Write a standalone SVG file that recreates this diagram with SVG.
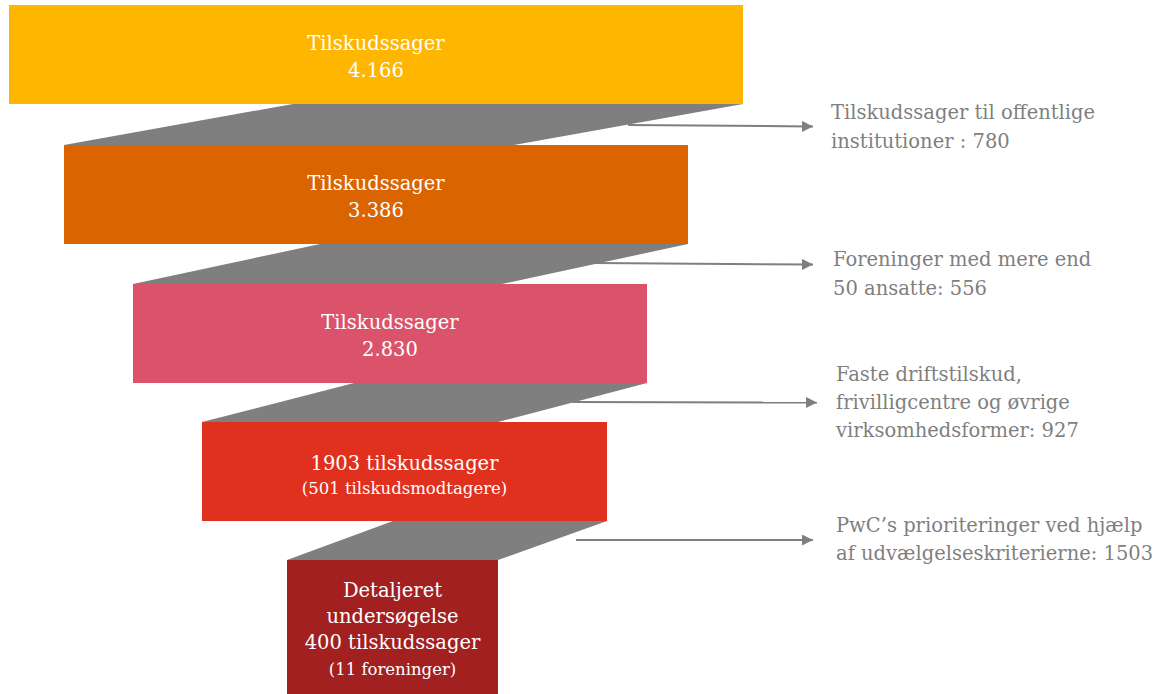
<svg xmlns="http://www.w3.org/2000/svg" width="1158" height="694" viewBox="0 0 1158 694">
<style>
.bt{font-family:"DejaVu Serif","Liberation Serif",serif;fill:#ffffff;text-anchor:middle;font-size:19.5px}
.bs{font-size:16.5px}
.lt{font-family:"DejaVu Serif","Liberation Serif",serif;fill:#7f7f7f;font-size:19.5px}
.gr{fill:#7f7f7f}
.ar{stroke:#7f7f7f;stroke-width:2;fill:none;marker-end:url(#ah)}
</style>
<defs>
<marker id="ah" viewBox="0 0 10 10" refX="10" refY="5" markerWidth="5.5" markerHeight="5.5" markerUnits="strokeWidth" orient="auto">
<path d="M0,0 L10,5 L0,10 z" fill="#7f7f7f"/>
</marker>
</defs>
<rect width="1158" height="694" fill="#ffffff"/>
<g id="connectors">
<polygon class="gr" points="293,104 743,104 514,145 64,145"/>
<polygon class="gr" points="320,244 688,244 502,284 133,284"/>
<polygon class="gr" points="354,383 647,383 498,422 202,422"/>
<polygon class="gr" points="393,521 607,521 498,560 287,560"/>
<path class="ar" d="M628,125 L813,126.5"/>
<path class="ar" d="M594,263 L813,264.5"/>
<path class="ar" d="M572,402 L817,402.5"/>
<path class="ar" d="M576,540 L813,540"/>
</g>
<g id="n1">
<rect x="9" y="5" width="734" height="99" fill="#ffb600"/>
<text class="bt" x="376" y="50">Tilskudssager</text>
<text class="bt" x="376" y="77">4.166</text>
</g>
<g id="n2">
<rect x="64" y="145" width="624" height="99" fill="#d96400"/>
<text class="bt" x="376" y="190">Tilskudssager</text>
<text class="bt" x="376" y="217">3.386</text>
</g>
<g id="n3">
<rect x="133" y="284" width="514" height="99" fill="#db536a"/>
<text class="bt" x="390" y="329">Tilskudssager</text>
<text class="bt" x="390" y="356">2.830</text>
</g>
<g id="n4">
<rect x="202" y="422" width="405" height="99" fill="#e0301e"/>
<text class="bt" x="404.5" y="470">1903 tilskudssager</text>
<text class="bt bs" x="404.5" y="494">(501 tilskudsmodtagere)</text>
</g>
<g id="n5">
<rect x="287" y="560" width="211" height="134" fill="#a32020"/>
<text class="bt" x="392.5" y="597">Detaljeret</text>
<text class="bt" x="392.5" y="623">undersøgelse</text>
<text class="bt" x="392.5" y="649">400 tilskudssager</text>
<text class="bt bs" x="392.5" y="675">(11 foreninger)</text>
</g>
<g id="l1">
<text class="lt" x="831" y="119">Tilskudssager til offentlige</text>
<text class="lt" x="831" y="148">institutioner : 780</text>
</g>
<g id="l2">
<text class="lt" x="833" y="266">Foreninger med mere end</text>
<text class="lt" x="833" y="295">50 ansatte: 556</text>
</g>
<g id="l3">
<text class="lt" x="836" y="381">Faste driftstilskud,</text>
<text class="lt" x="836" y="409">frivilligcentre og øvrige</text>
<text class="lt" x="836" y="437">virksomhedsformer: 927</text>
</g>
<g id="l4">
<text class="lt" x="836" y="532">PwC’s prioriteringer ved hjælp</text>
<text class="lt" x="836" y="560">af udvælgelseskriterierne: 1503</text>
</g>
</svg>
